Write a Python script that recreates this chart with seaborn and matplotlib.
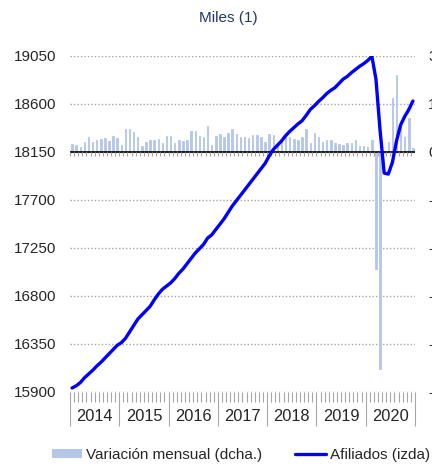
import numpy as np
import pandas as pd
import matplotlib
matplotlib.use('Agg')
import matplotlib.pyplot as plt
import matplotlib.transforms as mtransforms
from matplotlib.lines import Line2D
from matplotlib.patches import Patch
import seaborn as sns

# datos mensuales, ene-2014 a dic-2020 (miles)
years = ['2014', '2015', '2016', '2017', '2018', '2019', '2020']

afiliados = [
    15935, 15955, 15985, 16030, 16065, 16100, 16140, 16175, 16215, 16255, 16295, 16335,
    16360, 16400, 16460, 16520, 16580, 16620, 16660, 16700, 16760, 16815, 16860, 16890,
    16920, 16960, 17010, 17050, 17100, 17150, 17200, 17240, 17280, 17340, 17370, 17420,
    17470, 17520, 17580, 17640, 17690, 17740, 17790, 17840, 17890, 17940, 17990, 18040,
    18110, 18170, 18210, 18250, 18300, 18340, 18375, 18410, 18440, 18490, 18545, 18580,
    18620, 18655, 18695, 18725, 18750, 18790, 18830, 18855, 18890, 18920, 18950, 18975,
    19005, 19045, 18830, 18350, 17950, 17940, 18050, 18250, 18400, 18480, 18545, 18625,
]

variacion = [
    25, 22, 14, 31, 45, 31, 36, 39, 44, 34, 50, 44,
    22, 70, 70, 61, 47, 19, 31, 36, 36, 40, 28, 50,
    50, 28, 38, 33, 36, 66, 66, 50, 45, 79, 22, 50,
    56, 47, 59, 72, 56, 47, 45, 43, 52, 52, 47, 31,
    56, 52, 24, 35, 50, 47, 40, 35, 47, 72, 26, 58,
    45, 29, 37, 37, 26, 24, 20, 27, 28, 37, 18, 18,
    16, 36, -368, -678, -5, 31, 168, 240, 80, 46, 104, 12,
]

left_ticks = [15900, 16350, 16800, 17250, 17700, 18150, 18600, 19050]
right_ticks = [-750, -600, -450, -300, -150, 0, 150, 300]

df = pd.DataFrame({
    'mes': np.arange(len(afiliados)),
    'afiliados': afiliados,
    'variacion': variacion,
})

sns.set_style('white')
plt.rcParams['font.family'] = ['Liberation Sans', 'DejaVu Sans']
plt.rcParams['axes.unicode_minus'] = False

grid_col = '#A6A6A6'
bar_col = '#B4C7E7'
line_col = '#0000FF'

fig = plt.figure(figsize=(4.32, 4.66), dpi=100)
ax_bar = fig.add_axes([0.162, 0.1594, 0.7986, 0.7211])
ax_line = ax_bar.twinx()

# barras: variacion mensual (eje derecho)
sns.barplot(data=df, x='mes', y='variacion', native_scale=True, width=0.35,
            color=bar_col, saturation=1, errorbar=None, ax=ax_bar,
            edgecolor=bar_col, linewidth=0.6)
ax_bar.axhline(0, color='black', lw=1.2, zorder=2)

# linea: afiliados (eje izquierdo)
sns.lineplot(data=df, x='mes', y='afiliados', color=line_col, lw=2.4, ax=ax_line)

n = len(afiliados)
month_edges = np.arange(n + 1) - 0.5
year_edges = month_edges[::12]
ax_bar.vlines(month_edges, -12, 0, color=grid_col, lw=0.8, zorder=2)

ax_bar.set_xlim(-0.5, n - 0.5)
ax_bar.set_ylim(right_ticks[0], right_ticks[-1])
ax_line.set_ylim(left_ticks[0], left_ticks[-1])

# ejes y: izquierda afiliados, derecha variacion
ax_bar.yaxis.tick_right()
ax_line.yaxis.tick_left()
ax_bar.set_yticks(right_ticks)
ax_bar.set_yticklabels([str(v) for v in right_ticks])
ax_line.set_yticks(left_ticks)
ax_bar.tick_params(axis='y', length=0, pad=9.5, labelsize=11, labelright=True, labelleft=False)
ax_line.tick_params(axis='y', length=0, pad=10, labelsize=11, labelleft=True, labelright=False)

ax_bar.grid(axis='y', color=grid_col, linestyle=(0, (1, 1.5)), lw=1.0)
ax_bar.grid(axis='x', visible=False)
ax_line.grid(False)

# eje x: marcas mensuales y separadores anuales
ax_bar.set_xticks(year_edges)
ax_bar.set_xticks(month_edges, minor=True)
ax_bar.set_xticklabels([])
ax_bar.tick_params(axis='x', which='major', bottom=True, length=24.5, width=0.8,
                   color=grid_col, direction='out')
ax_bar.tick_params(axis='x', which='minor', bottom=True, length=7.2, width=0.8,
                   color=grid_col, direction='out')

trans = mtransforms.blended_transform_factory(ax_bar.transData, ax_bar.transAxes)
for i, y in enumerate(years):
    ax_bar.text(12 * i + 5.5, -0.075, y, transform=trans, ha='center', va='center',
                fontsize=11.8)

for a in (ax_bar, ax_line):
    a.set_xlabel('')
    a.set_ylabel('')
    for s in a.spines.values():
        s.set_visible(False)

fig.text(0.528, 1 - 18 / 466, 'Miles (1)', ha='center', va='center',
         fontsize=11, color='#203864')

handles = [Patch(facecolor=bar_col, edgecolor='none'),
           Line2D([0], [0], color=line_col, lw=2.4)]
fig.legend(handles, ['Variación mensual (dcha.)', 'Afiliados (izda)'],
           loc='center left', bbox_to_anchor=(0.12, 0.024), ncol=2, frameon=False,
           fontsize=11, handlelength=2.0, handleheight=0.5, handletextpad=0.25,
           columnspacing=2.15, borderpad=0, borderaxespad=0)

fig.savefig('out.png', dpi=100)
